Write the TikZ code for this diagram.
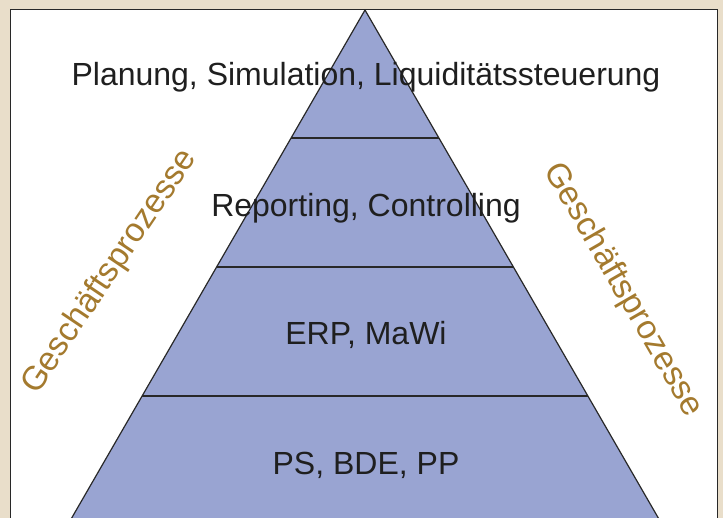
\documentclass[tikz,border=0pt]{standalone}
\usepackage{fontspec}
\setmainfont{Liberation Sans}
\usepackage{xcolor}
\usepackage{tikz}
\usetikzlibrary{positioning}

\definecolor{paper}{RGB}{233,222,202}
\definecolor{layerblue}{RGB}{153,164,210}
\definecolor{procgold}{RGB}{164,122,46}
\definecolor{edgegray}{RGB}{40,40,40}

\begin{document}
\begin{tikzpicture}[x=1pt,y=-1pt,
    layertext/.style={text=black!88,font=\fontsize{32}{36}\selectfont,inner sep=0pt,anchor=base},
    proctext/.style={text=procgold,font=\fontsize{33.5}{38}\selectfont,inner sep=0pt}]
    \useasboundingbox (0,0) rectangle (723,518);
    \clip (0,0) rectangle (723,518);
    % background and panel
    \fill[paper] (0,0) rectangle (723,518);
    \draw[edgegray,fill=white,line width=1.2pt] (10.5,9.5) rectangle (717.5,540);
    % pyramid, 60 degree flanks
    \draw[edgegray,fill=layerblue,line width=1.2pt,line join=round]
        (365,10) -- ({365+550*0.5774},560) -- ({365-550*0.5774},560) -- cycle;
    \foreach \y in {138,267,396}
        \draw[edgegray,line width=1.2pt] ({365-(\y-10)*0.5774},\y) -- ({365+(\y-10)*0.5774},\y);
    % layers (placed on their baselines)
    \node[layertext] (plan) at (366,86) {Planung, Simulation, Liquiditätssteuerung};
    \node[layertext] (report) at (366,217) {Reporting, Controlling};
    \node[layertext] (erp) at (366,345) {ERP, MaWi};
    \node[layertext] (ps) at (366,474) {PS, BDE, PP};
    % process labels along the flanks
    \node[proctext,rotate=56] (gpleft) at (110,272) {Geschäftsprozesse};
    \node[proctext,rotate=-60] (gpright) at (623,290) {Geschäftsprozesse};
\end{tikzpicture}
\end{document}
